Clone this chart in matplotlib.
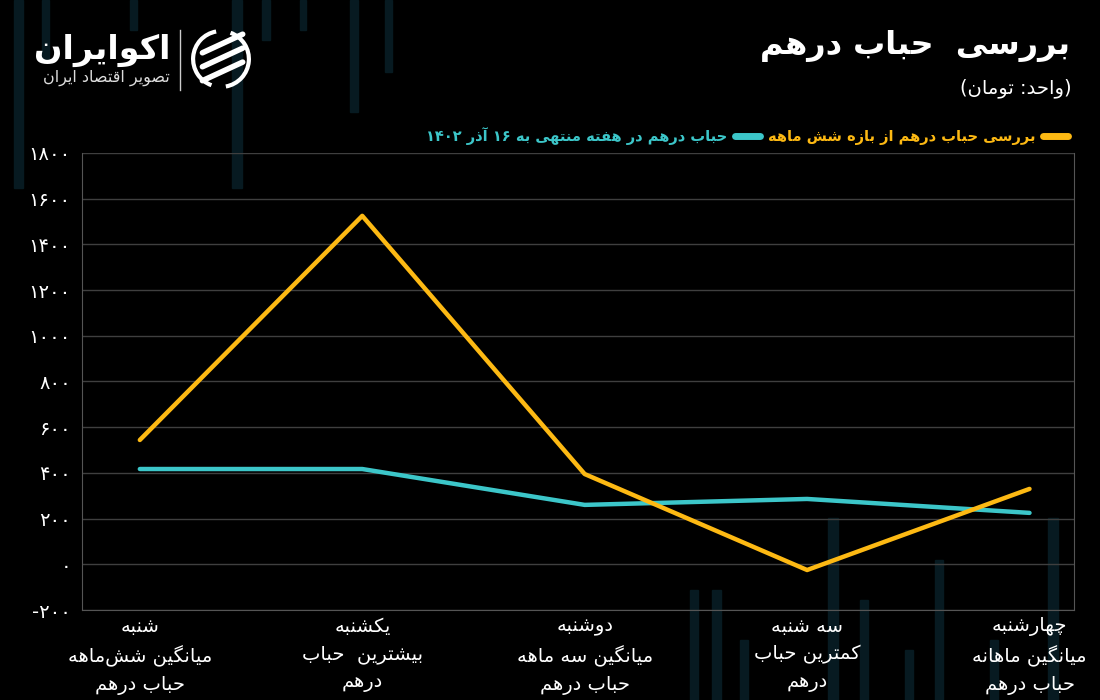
import matplotlib
matplotlib.use('Agg')
import matplotlib.pyplot as plt
from matplotlib.patches import Rectangle, Arc
from matplotlib.lines import Line2D

# ---- data ----
days = ['شنبه', 'یکشنبه', 'دوشنبه', 'سه شنبه', 'چهارشنبه']
notes = [('میانگین شش\u200cماهه', 'حباب درهم'),
         ('بیشترین  حباب', 'درهم'),
         ('میانگین سه ماهه', 'حباب درهم'),
         ('کمترین حباب', 'درهم'),
         ('میانگین ماهانه', 'حباب درهم')]
six_month = [544, 1525, 395, -25, 330]
week = [417, 417, 260, 286, 225]
yticks = list(range(-200, 1801, 200))

label_six = 'بررسی حباب درهم از بازه شش ماهه'
label_week = 'حباب درهم در هفته منتهی به ۱۶ آذر ۱۴۰۲'
title = 'بررسی  حباب درهم'
unit = '(واحد: تومان)'

ORANGE = '#FDB913'
CYAN = '#3CC6C9'


# ---- minimal persian shaping (matplotlib has no bidi / shaping) ----
def four(a):
    return (a, a + 1, a + 2, a + 3)


def two(a):
    return (a, a + 1, None, None)


FORMS = {
    '\u0627': two(0xFE8D), '\u0622': two(0xFE81),
    '\u0628': four(0xFE8F), '\u067E': four(0xFB56),
    '\u062A': four(0xFE95), '\u062B': four(0xFE99),
    '\u062C': four(0xFE9D), '\u0686': four(0xFB7A),
    '\u062D': four(0xFEA1), '\u062E': four(0xFEA5),
    '\u062F': two(0xFEA9), '\u0630': two(0xFEAB),
    '\u0631': two(0xFEAD), '\u0632': two(0xFEAF), '\u0698': two(0xFB8A),
    '\u0633': four(0xFEB1), '\u0634': four(0xFEB5),
    '\u0635': four(0xFEB9), '\u0636': four(0xFEBD),
    '\u0637': four(0xFEC1), '\u0638': four(0xFEC5),
    '\u0639': four(0xFEC9), '\u063A': four(0xFECD),
    '\u0641': four(0xFED1), '\u0642': four(0xFED5),
    '\u06A9': four(0xFB8E), '\u06AF': four(0xFB92),
    '\u0644': four(0xFEDD), '\u0645': four(0xFEE1),
    '\u0646': four(0xFEE5), '\u0647': four(0xFEE9),
    '\u0648': two(0xFEED), '\u06CC': (0xFEEF, 0xFEF0, 0xFEF3, 0xFEF4),
}
DIGITS = set('0123456789۰۱۲۳۴۵۶۷۸۹')


def fa(s):
    out = []
    for i, c in enumerate(s):
        if c not in FORMS:
            out.append(c)
            continue
        prev = s[i - 1] if i > 0 else None
        nxt = s[i + 1] if i + 1 < len(s) else None
        jp = prev in FORMS and FORMS[prev][2] is not None
        jn = nxt in FORMS and FORMS[c][2] is not None
        f = FORMS[c]
        if jp and jn:
            g = f[3]
        elif jp:
            g = f[1]
        elif jn:
            g = f[2]
        else:
            g = f[0]
        out.append(chr(g))
    s = ''.join(out).replace('\u200c', '')
    s = s[::-1].translate(str.maketrans('()', ')('))
    # put digit runs back in left-to-right order
    res, run = '', ''
    for c in s:
        if c in DIGITS:
            run += c
        else:
            res += run[::-1] + c
            run = ''
    return res + run[::-1]


def fa_num(v):
    return str(v).translate(str.maketrans('0123456789', '۰۱۲۳۴۵۶۷۸۹'))


plt.rcParams['font.family'] = ['DejaVu Sans']

fig = plt.figure(figsize=(11, 7), dpi=100, facecolor='black')

# faint candle bars in the background
bg = '#071a21'
for x, y0, y1, w in [(14, 0, 188, 9), (42, 0, 60, 7), (130, 0, 30, 7), (232, 0, 188, 10),
                     (262, 0, 40, 8), (300, 0, 30, 6), (350, 0, 112, 8), (385, 0, 72, 7),
                     (690, 590, 700, 8), (712, 590, 700, 9), (740, 640, 700, 8),
                     (828, 518, 700, 10), (860, 600, 700, 8), (905, 650, 700, 8),
                     (935, 560, 700, 8), (990, 640, 700, 8), (1048, 518, 700, 10)]:
    fig.add_artist(Rectangle((x / 1100, 1 - y1 / 700), w / 1100, (y1 - y0) / 700,
                             transform=fig.transFigure, color=bg, zorder=0))

ax = fig.add_axes([82 / 1100, 90 / 700, 992 / 1100, 457 / 700])
ax.set_facecolor('none')
x = list(range(len(days)))
ax.plot(x, week, color=CYAN, lw=3.2, solid_capstyle='round', solid_joinstyle='round',
        label=fa(label_week), zorder=3)
ax.plot(x, six_month, color=ORANGE, lw=3.2, solid_capstyle='round', solid_joinstyle='round',
        label=fa(label_six), zorder=4)

ax.set_ylim(-200, 1800)
ax.set_xlim(-0.26, 4.2)
ax.set_yticks(yticks)
ax.set_yticklabels([fa_num(v) for v in yticks], color='white', fontsize=14)
ax.set_xticks(x)
ax.set_xticklabels([fa(d) + '\n' + fa(a) + '\n' + fa(b) for d, (a, b) in zip(days, notes)],
                   color='white', fontsize=14, linespacing=1.55)
ax.tick_params(axis='both', length=0, pad=8)
ax.tick_params(axis='x', pad=5)
ax.grid(axis='y', color='#3f3f3f', lw=1)
ax.set_axisbelow(True)
for side in ['left', 'bottom', 'right']:
    ax.spines[side].set_color('#555555')
ax.spines['top'].set_visible(False)

leg = ax.legend(loc='lower right', bbox_to_anchor=(1068 / 1100, 1 - 145 / 700),
                bbox_transform=fig.transFigure, ncol=2, markerfirst=False, frameon=False,
                fontsize=10.5, labelcolor='linecolor', handlelength=1.7, handletextpad=0.5,
                columnspacing=0.6, borderaxespad=0, borderpad=0)
for h in leg.legend_handles:
    h.set_linewidth(5)
    h.set_solid_capstyle('round')
for t in leg.get_texts():
    t.set_fontweight('bold')

# title
fig.text(1070 / 1100, 1 - 46 / 700, fa(title), color='white', fontsize=23, fontweight='bold',
         ha='right', va='center')
fig.text(1072 / 1100, 1 - 88 / 700, fa(unit), color='white', fontsize=14,
         ha='right', va='center')

# logo
fig.text(170 / 1100, 1 - 50 / 700, fa('اکوایران'), color='white', fontsize=24,
         fontweight='bold', ha='right', va='center')
fig.text(170 / 1100, 1 - 78 / 700, fa('تصویر اقتصاد ایران'), color='#dddddd', fontsize=11.5,
         ha='right', va='center')
fig.add_artist(Line2D([180 / 1100, 180 / 1100], [1 - 30 / 700, 1 - 90 / 700],
                      transform=fig.transFigure, color='#cccccc', lw=1))
lax = fig.add_axes([190 / 1100, 1 - 90 / 700, 62 / 1100, 62 / 700])
lax.set_xlim(-1, 1)
lax.set_ylim(-1, 1)
lax.set_aspect('equal')
lax.axis('off')
lax.add_patch(Arc((0, 0), 1.8, 1.8, theta1=100, theta2=250, color='white', lw=3))
lax.add_patch(Arc((0, 0), 1.8, 1.8, theta1=280, theta2=70, color='white', lw=3))
for dy in (0.45, 0.0, -0.45):
    lax.plot([-0.6, 0.7], [dy - 0.25, dy + 0.35], color='white', lw=4, solid_capstyle='round')

fig.savefig('out.png', dpi=100, facecolor='black')
